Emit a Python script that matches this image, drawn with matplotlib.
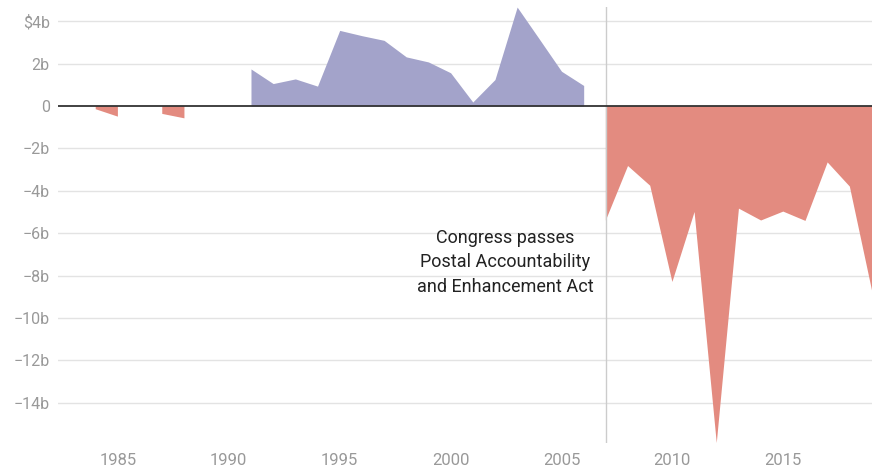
import numpy as np
import matplotlib
matplotlib.use("Agg")
import matplotlib.pyplot as plt

# USPS net income, billions of dollars (None = not shown)
years = list(range(1984, 2020))
net_income = [
    -0.15, -0.5, None, -0.37, -0.58, None, None,
    1.75, 1.06, 1.28, 0.94, 3.57, 3.32, 3.1, 2.32, 2.08, 1.57,
    0.19, 1.25, 4.67, 3.16, 1.64, 0.97,
    -5.4, -2.83, -3.76, -8.3, -5.0, -15.9, -4.84, -5.4, -4.98,
    -5.42, -2.66, -3.8, -8.7,
]
yticks = [4, 2, 0, -2, -4, -6, -8, -10, -12, -14]
ytick_labels = ["$4b", "2b", "0", "\u22122b", "\u22124b", "\u22126b", "\u22128b",
                "\u221210b", "\u221212b", "\u221214b"]
xticks = [1985, 1990, 1995, 2000, 2005, 2010, 2015]
event_year = 2007
event_text = "Congress passes\nPostal Accountability\nand Enhancement Act"

plt.rcParams['font.family'] = ['Roboto', 'DejaVu Sans']

x = np.array(years, dtype=float)
v = np.array([np.nan if a is None else a for a in net_income], dtype=float)

fig = plt.figure(figsize=(8.75, 4.71), dpi=100)
ax = fig.add_axes([0.0663, 0.0594, 0.9303, 0.9256])

ax.fill_between(x, 0, v, where=v > 0, color="#a3a3ca", linewidth=0, zorder=2)
ax.fill_between(x, 0, v, where=v < 0, color="#e38b80", linewidth=0, zorder=2)

for t in yticks:
    if t != 0:
        ax.axhline(t, color="#e3e3e3", linewidth=1, zorder=1)
ax.axhline(0, color="#333333", linewidth=1.3, zorder=4)
ax.axvline(event_year, color="#cccccc", linewidth=1, zorder=3)

ax.text(2002.45, -5.8, event_text, ha="center", va="top", fontsize=13,
        color="#222222", linespacing=1.45, zorder=5)

ax.set_xlim(1982.3, 2019)
ax.set_ylim(-15.9, 4.67)
ax.set_yticks(yticks)
ax.set_yticklabels(ytick_labels)
ax.set_xticks(xticks)
for s in ax.spines.values():
    s.set_visible(False)
ax.tick_params(axis="both", length=0, colors="#999999")
ax.tick_params(axis="y", pad=6, labelsize=11.5)
ax.tick_params(axis="x", pad=7, labelsize=12)

fig.savefig("out.png", dpi=100)
